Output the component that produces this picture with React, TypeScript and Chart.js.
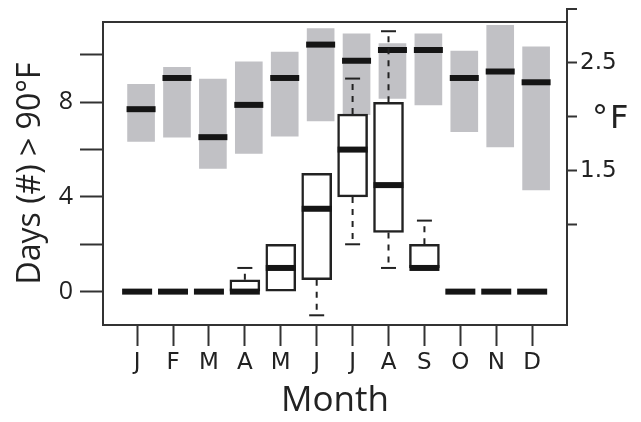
import { useEffect, useRef } from 'react';
import { Chart, registerables } from 'chart.js';
Chart.register(...registerables);

const months = ['J', 'F', 'M', 'A', 'M', 'J', 'J', 'A', 'S', 'O', 'N', 'D'];

// temperature change (°F), right axis: grey floating bars + median
const tempLow = [1.77, 1.81, 1.52, 1.66, 1.82, 1.96, 2.02, 2.17, 2.11, 1.86, 1.72, 1.32];
const tempHigh = [2.30, 2.46, 2.35, 2.51, 2.60, 2.82, 2.77, 2.68, 2.77, 2.61, 2.85, 2.65];
const tempMedian = [2.07, 2.36, 1.81, 2.11, 2.36, 2.67, 2.52, 2.62, 2.62, 2.36, 2.42, 2.32];

// days > 90°F, left axis: box plots
const daysMin = [0, 0, 0, 0, 0, -1, 2, 1, 1, 0, 0, 0];
const daysQ1 = [0, 0, 0, 0, 0, 0.5, 4, 2.5, 1, 0, 0, 0];
const daysMedian = [0, 0, 0, 0, 1, 3.5, 6, 4.5, 1, 0, 0, 0];
const daysQ3 = [0, 0, 0, 0.5, 2, 5, 7.5, 8, 2, 0, 0, 0];
const daysMax = [0, 0, 0, 1, 2, 5, 9, 11, 3, 0, 0, 0];

const leftTicks = [0, 2, 4, 6, 8, 10];
const leftLabels = [0, 4, 8];
const rightTicks = [1.0, 1.5, 2.0, 2.5, 3.0];
const rightLabels = [1.5, 2.5];

const GRAY_SHIFT = 0.11;
const INK = '#222';

const framePlugin = {
  id: 'frame',
  afterDraw(chart: any) {
    const { ctx, chartArea: a, scales } = chart;
    const y2 = scales.y2;
    ctx.save();
    ctx.strokeStyle = '#333';
    ctx.lineWidth = 2;
    ctx.strokeRect(a.left, a.top, a.right - a.left, a.bottom - a.top);
    rightTicks
      .filter((v) => v > y2.max)
      .forEach((v) => {
        const py = y2.getPixelForValue(v);
        ctx.beginPath();
        ctx.moveTo(a.right, a.top);
        ctx.lineTo(a.right, py);
        ctx.lineTo(a.right + 10, py);
        ctx.stroke();
      });
    ctx.fillStyle = INK;
    ctx.font = '32px "DejaVu Sans"';
    ctx.textAlign = 'left';
    ctx.textBaseline = 'alphabetic';
    (ctx as any).letterSpacing = '2px';
    ctx.fillText('°F', a.right + 25, y2.getPixelForValue(2.0) + 11);
    ctx.restore();
  },
};

export default function App() {
  const ref = useRef<HTMLCanvasElement | null>(null);

  useEffect(() => {
    if (!ref.current) return;
    const idx = months.map((_, i) => i);

    const grayBars = idx.map((i) => ({ x: i + GRAY_SHIFT, y: [tempLow[i], tempHigh[i]] }));
    const grayMed = idx.map((i) => ({ x: i + GRAY_SHIFT, y: tempMedian[i] }));
    const boxes = idx
      .filter((i) => daysQ3[i] > daysQ1[i])
      .map((i) => ({ x: i, y: [daysQ1[i], daysQ3[i]] }));
    const boxMed = idx.map((i) => ({ x: i, y: daysMedian[i] }));
    const whiskers: any[] = [];
    const caps: any[] = [];
    idx.forEach((i) => {
      if (daysMax[i] > daysQ3[i]) {
        whiskers.push({ x: i, y: daysQ3[i] }, { x: i, y: daysMax[i] }, { x: i, y: null });
        caps.push({ x: i, y: daysMax[i] });
      }
      if (daysMin[i] < daysQ1[i]) {
        whiskers.push({ x: i, y: daysQ1[i] }, { x: i, y: daysMin[i] }, { x: i, y: null });
        caps.push({ x: i, y: daysMin[i] });
      }
    });

    const axisGrid = (len: number) => ({
      drawOnChartArea: false,
      drawTicks: true,
      tickLength: len,
      tickWidth: 2,
      tickColor: '#333',
      offset: false,
    });
    const border = { display: true, color: '#333', width: 2 };

    const chart = new Chart(ref.current, {
      type: 'bar',
      data: {
        datasets: [
          {
            type: 'bar',
            data: grayBars as any,
            yAxisID: 'y2',
            backgroundColor: '#c1c1c5',
            borderWidth: 0,
            barThickness: 27,
            grouped: false,
            order: 6,
          },
          {
            type: 'scatter',
            data: grayMed as any,
            yAxisID: 'y2',
            pointStyle: 'line',
            pointRadius: 14.5,
            borderColor: '#151515',
            borderWidth: 6,
            order: 5,
          },
          {
            type: 'bar',
            data: boxes as any,
            yAxisID: 'y',
            backgroundColor: '#ffffff',
            borderColor: INK,
            borderWidth: 2.5,
            borderSkipped: false,
            barThickness: 30,
            grouped: false,
            order: 4,
          },
          {
            type: 'line',
            data: whiskers as any,
            yAxisID: 'y',
            borderColor: INK,
            borderWidth: 2,
            borderDash: [6, 6],
            pointRadius: 0,
            fill: false,
            spanGaps: false,
            order: 3,
          },
          {
            type: 'scatter',
            data: caps as any,
            yAxisID: 'y',
            pointStyle: 'line',
            pointRadius: 7.5,
            borderColor: INK,
            borderWidth: 2,
            order: 2,
          },
          {
            type: 'scatter',
            data: boxMed as any,
            yAxisID: 'y',
            pointStyle: 'line',
            pointRadius: 15,
            borderColor: '#151515',
            borderWidth: 6,
            order: 1,
          },
        ],
      },
      options: {
        responsive: false,
        animation: false,
        devicePixelRatio: 1,
        layout: { padding: { top: 21, left: 0, right: 0, bottom: 0 } },
        plugins: { legend: { display: false }, tooltip: { enabled: false } },
        scales: {
          x: {
            type: 'linear',
            min: -0.95,
            max: 11.97,
            offset: false,
            grid: axisGrid(21),
            border,
            ticks: {
              autoSkip: false,
              maxRotation: 0,
              padding: 3,
              color: INK,
              font: { family: 'DejaVu Sans', size: 23 },
              callback: (v: any) => months[v as number] ?? '',
            },
            afterBuildTicks: (s: any) => {
              s.ticks = idx.map((i) => ({ value: i }));
            },
            afterFit: (s: any) => {
              s.height = 97;
            },
            title: {
              display: true,
              text: 'Month',
              color: INK,
              font: { family: 'Open Sans', size: 35 },
              padding: { top: 0, bottom: 0 },
            },
          },
          y: {
            type: 'linear',
            position: 'left',
            min: -1.41,
            max: 11.39,
            grid: axisGrid(23),
            border,
            ticks: {
              padding: 7,
              color: INK,
              font: { family: 'Open Sans', size: 25 },
              callback: (v: any) => (leftLabels.includes(v) ? String(v) : ''),
            },
            afterBuildTicks: (s: any) => {
              s.ticks = leftTicks.map((v) => ({ value: v }));
            },
            afterFit: (s: any) => {
              s.width = 103;
            },
            title: {
              display: true,
              text: 'Days (#) > 90°F',
              color: INK,
              font: { family: 'Open Sans', size: 32 },
              padding: { top: 12, bottom: 0 },
            },
          },
          y2: {
            type: 'linear',
            position: 'right',
            min: 0.065,
            max: 2.88,
            grid: axisGrid(10),
            border,
            ticks: {
              padding: 3,
              color: INK,
              font: { family: 'DejaVu Sans', size: 23 },
              callback: (v: any) => (rightLabels.includes(v) ? Number(v).toFixed(1) : ''),
            },
            afterBuildTicks: (s: any) => {
              s.ticks = rightTicks.filter((v) => v >= s.min && v <= s.max).map((v) => ({ value: v }));
            },
            afterFit: (s: any) => {
              s.width = 74;
            },
          },
        },
      },
      plugins: [framePlugin],
    } as any);

    return () => chart.destroy();
  }, []);

  return (
    <div style={{ position: 'fixed', left: 0, top: 0, width: 641, height: 422, background: '#fff' }}>
      <canvas ref={ref} width={641} height={422} />
    </div>
  );
}
